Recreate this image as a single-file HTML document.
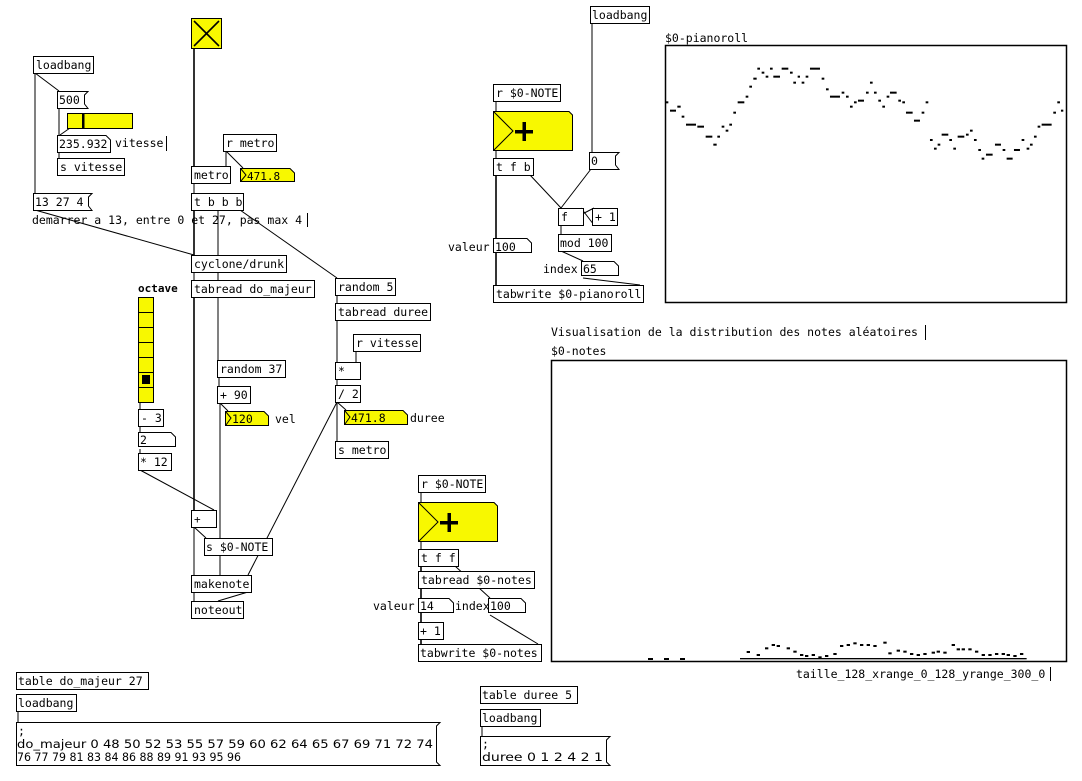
<!DOCTYPE html>
<html><head><meta charset="utf-8"><style>
html,body{margin:0;padding:0;background:#fff;}
svg{display:block;font-family:"DejaVu Sans Mono","Liberation Mono",monospace;font-size:11.5px;}
text{fill:#000;}
.b{fill:#fff;stroke:#000;stroke-width:1;}
.y{fill:#f8f800;stroke:#000;stroke-width:1;}
.l{stroke:#000;stroke-width:1;fill:none;}
.c{stroke:#000;stroke-width:1.6;fill:none;}
.io{fill:#000;}
.p{font-family:"DejaVu Sans","Liberation Sans",sans-serif;font-size:11.5px;}
</style></head><body>
<svg width="1082" height="781" viewBox="0 0 1082 781" xmlns="http://www.w3.org/2000/svg">
<!-- connections -->
<g class="l">
<line x1="35" y1="73" x2="59" y2="91"/>
<line x1="35" y1="73" x2="35" y2="193"/>
<line x1="59" y1="108" x2="59" y2="135"/>
<line x1="70" y1="128" x2="60" y2="135"/>
<line x1="59" y1="152" x2="59" y2="158"/>
<line x1="35" y1="210" x2="194" y2="255"/>
<line x1="194" y1="48" x2="194" y2="166" class="c"/>
<line x1="226" y1="151" x2="226" y2="166"/>
<line x1="226" y1="151" x2="243" y2="168"/>
<line x1="194" y1="183" x2="194" y2="193"/>
<line x1="194" y1="210" x2="194" y2="255" class="c"/>
<line x1="218" y1="210" x2="218" y2="360"/>
<line x1="240" y1="210" x2="337" y2="278"/>
<line x1="194" y1="272" x2="194" y2="280"/>
<line x1="194" y1="297" x2="194" y2="510" class="c"/>
<line x1="194" y1="527" x2="206" y2="538"/>
<line x1="194" y1="527" x2="194" y2="575"/>
<line x1="140" y1="402" x2="140" y2="409"/>
<line x1="140" y1="426" x2="140" y2="432"/>
<line x1="140" y1="449" x2="140" y2="453"/>
<line x1="140" y1="470" x2="214" y2="510"/>
<line x1="219" y1="377" x2="219" y2="386"/>
<line x1="220" y1="403" x2="220" y2="575"/>
<line x1="220" y1="403" x2="228" y2="411"/>
<line x1="337" y1="295" x2="337" y2="303"/>
<line x1="337" y1="320" x2="337" y2="362"/>
<line x1="356" y1="351" x2="356" y2="362"/>
<line x1="337" y1="379" x2="337" y2="385"/>
<line x1="337" y1="402" x2="337" y2="441"/>
<line x1="337" y1="402" x2="346" y2="410"/>
<line x1="337" y1="402" x2="248" y2="575"/>
<line x1="194" y1="592" x2="194" y2="601"/>
<line x1="248" y1="592" x2="218" y2="601"/>
<line x1="592" y1="23" x2="592" y2="152"/>
<line x1="591" y1="169" x2="561" y2="208"/>
<line x1="530" y1="175" x2="561" y2="208"/>
<line x1="496" y1="101" x2="496" y2="111"/>
<line x1="496" y1="151" x2="496" y2="158"/>
<line x1="496" y1="175" x2="496" y2="285" class="c"/>
<line x1="561" y1="225" x2="594" y2="208"/>
<line x1="594" y1="225" x2="581" y2="208"/>
<line x1="561" y1="225" x2="561" y2="234"/>
<line x1="561" y1="251" x2="583" y2="261"/>
<line x1="583" y1="278" x2="640" y2="285"/>
<line x1="421" y1="492" x2="421" y2="502"/>
<line x1="421" y1="542" x2="421" y2="549"/>
<line x1="421" y1="566" x2="421" y2="644" class="c"/>
<line x1="455" y1="566" x2="490" y2="598"/>
<line x1="490" y1="615" x2="538" y2="644"/>
<line x1="18" y1="711" x2="18" y2="722"/>
<line x1="482" y1="726" x2="482" y2="736"/>
</g>
<!-- toggle -->
<rect class="y" x="191.5" y="18.5" width="30" height="30"/>
<line class="c" x1="194" y1="21" x2="219" y2="46" stroke-width="2"/>
<line class="c" x1="219" y1="21" x2="194" y2="46" stroke-width="2"/>
<!-- objects -->
<g>
<rect class="b" x="33.5" y="56.5" width="60" height="17"/><text x="36" y="69">loadbang</text>
<polygon class="b" points="57.5,91.5 88,91.5 84.5,95 84.5,104 88,108.5 57.5,108.5"/><text x="59" y="104">500</text>
<rect class="y" x="67.5" y="113.5" width="65" height="15"/><rect x="82" y="114" width="2.5" height="14" class="io"/>
<polygon class="b" points="57.5,135.5 106,135.5 110.5,140 110.5,152.5 57.5,152.5"/><text x="59" y="148">235.932</text><text x="115" y="147">vitesse</text><line class="l" x1="166.5" y1="136" x2="166.5" y2="151"/>
<rect class="b" x="57.5" y="158.5" width="67" height="17"/><text x="60" y="171">s vitesse</text>
<polygon class="b" points="33.5,193.5 92,193.5 88.5,197 88.5,206 92,210.5 33.5,210.5"/><text x="35" y="206">13 27 4</text>
<text x="32" y="224">demarrer a 13, entre 0 et 27, pas max 4</text><line class="l" x1="307.5" y1="213" x2="307.5" y2="227"/>
<rect class="b" x="223.5" y="134.5" width="53" height="17"/><text x="226" y="147">r metro</text>
<rect class="b" x="191.5" y="166.5" width="39" height="17"/><text x="194" y="179">metro</text>
<polygon class="y" points="240.5,168.5 290,168.5 294.5,173 294.5,181.5 240.5,181.5"/><polyline class="l" points="241,169 246,175 241,181"/><text x="247" y="180" style="font-size:11px">471.8</text>
<rect class="b" x="191.5" y="193.5" width="52" height="17"/><text x="194" y="206">t b b b</text>
<rect class="b" x="191.5" y="255.5" width="95" height="17"/><text x="194" y="268">cyclone/drunk</text>
<rect class="b" x="191.5" y="280.5" width="123" height="17"/><text x="194" y="293">tabread do_majeur</text>
<text x="138" y="292" style="font-size:11px;font-weight:bold">octave</text>
<rect class="y" x="138.5" y="297.5" width="15" height="105"/>
<g class="l"><line x1="138" y1="312.5" x2="153" y2="312.5"/><line x1="138" y1="327.5" x2="153" y2="327.5"/><line x1="138" y1="342.5" x2="153" y2="342.5"/><line x1="138" y1="357.5" x2="153" y2="357.5"/><line x1="138" y1="372.5" x2="153" y2="372.5"/><line x1="138" y1="387.5" x2="153" y2="387.5"/></g>
<rect x="142" y="375" width="8" height="9" class="io"/>
<rect class="b" x="138.5" y="409.5" width="25" height="17"/><text x="141" y="422">- 3</text>
<polygon class="b" points="138.5,432.5 171,432.5 175.5,437 175.5,446.5 138.5,446.5"/><text x="140" y="444">2</text>
<rect class="b" x="138.5" y="453.5" width="33" height="17"/><text x="140" y="466">* 12</text>
<rect class="b" x="217.5" y="360.5" width="68" height="17"/><text x="220" y="373">random 37</text>
<rect class="b" x="217.5" y="386.5" width="33" height="17"/><text x="220" y="399">+ 90</text>
<polygon class="y" points="225.5,411.5 264,411.5 268.5,416 268.5,425.5 225.5,425.5"/><polyline class="l" points="226,412 231,418 226,425"/><text x="232" y="423">120</text><text x="275" y="423">vel</text>
<rect class="b" x="191.5" y="510.5" width="25" height="17"/><text x="194" y="523" style="font-size:11px">+</text>
<rect class="b" x="204.5" y="538.5" width="68" height="17"/><text x="206" y="551">s $0-NOTE</text>
<rect class="b" x="191.5" y="575.5" width="60" height="17"/><text x="194" y="588">makenote</text>
<rect class="b" x="191.5" y="601.5" width="52" height="17"/><text x="194" y="614">noteout</text>
<rect class="b" x="335.5" y="278.5" width="60" height="17"/><text x="338" y="291">random 5</text>
<rect class="b" x="335.5" y="303.5" width="95" height="17"/><text x="338" y="316">tabread duree</text>
<rect class="b" x="353.5" y="334.5" width="67" height="17"/><text x="356" y="347">r vitesse</text>
<rect class="b" x="335.5" y="362.5" width="25" height="17"/><text x="338" y="375">*</text>
<rect class="b" x="335.5" y="385.5" width="25" height="17"/><text x="338" y="398">/ 2</text>
<polygon class="y" points="344.5,410.5 403,410.5 407.5,415 407.5,424.5 344.5,424.5"/><polyline class="l" points="345,411 350,417 345,424"/><text x="351" y="422">471.8</text><text x="410" y="422">duree</text>
<rect class="b" x="335.5" y="441.5" width="53" height="17"/><text x="338" y="454">s metro</text>
<!-- right top -->
<rect class="b" x="590.5" y="6.5" width="59" height="17"/><text x="592" y="19">loadbang</text>
<rect class="b" x="493.5" y="84.5" width="67" height="17"/><text x="496" y="97">r $0-NOTE</text>
<polygon class="y" points="493.5,111.5 569,111.5 572.5,115 572.5,150.5 493.5,150.5"/><polyline class="l" points="494,112 513,131 494,150"/><rect x="515" y="130" width="18" height="3.5" class="io"/><rect x="522.5" y="122" width="3.5" height="19" class="io"/>
<rect class="b" x="493.5" y="158.5" width="40" height="17"/><text x="496" y="171">t f b</text>
<polygon class="b" points="589.5,152.5 619,152.5 615.5,156 615.5,165 619,169.5 589.5,169.5"/><text x="591" y="165">0</text>
<rect class="b" x="558.5" y="208.5" width="25" height="17"/><text x="561" y="221">f</text>
<rect class="b" x="592.5" y="208.5" width="25" height="17"/><text x="595" y="221">+ 1</text>
<rect class="b" x="558.5" y="234.5" width="53" height="17"/><text x="560" y="247">mod 100</text>
<polygon class="b" points="493.5,238.5 527,238.5 531.5,243 531.5,252.5 493.5,252.5"/><text x="495" y="251">100</text><text x="448" y="251">valeur</text>
<text x="543" y="273">index</text>
<polygon class="b" points="581.5,261.5 614,261.5 618.5,266 618.5,275.5 581.5,275.5"/><text x="583" y="273">65</text>
<rect class="b" x="493.5" y="285.5" width="150" height="17"/><text x="496" y="298">tabwrite $0-pianoroll</text>
<!-- bottom middle -->
<rect class="b" x="418.5" y="475.5" width="67" height="17"/><text x="421" y="488">r $0-NOTE</text>
<polygon class="y" points="418.5,502.5 494,502.5 497.5,506 497.5,541.5 418.5,541.5"/><polyline class="l" points="419,503 438,522 419,541"/><rect x="440" y="521" width="18" height="3.5" class="io"/><rect x="447.5" y="513" width="3.5" height="19" class="io"/>
<rect class="b" x="418.5" y="549.5" width="40" height="17"/><text x="421" y="562">t f f</text>
<rect class="b" x="418.5" y="571.5" width="116" height="17"/><text x="421" y="584">tabread $0-notes</text>
<text x="373" y="610">valeur</text>
<polygon class="b" points="418.5,598.5 449,598.5 453.5,603 453.5,612.5 418.5,612.5"/><text x="420" y="610">14</text>
<text x="455" y="610">index</text>
<polygon class="b" points="488.5,598.5 521,598.5 525.5,603 525.5,612.5 488.5,612.5"/><text x="490" y="610">100</text>
<rect class="b" x="418.5" y="622.5" width="25" height="17"/><text x="420" y="635">+ 1</text>
<rect class="b" x="418.5" y="644.5" width="123" height="17"/><text x="420" y="657">tabwrite $0-notes</text>
<!-- tables -->
<rect class="b" x="16.5" y="672.5" width="132" height="17"/><text x="18" y="685">table do_majeur 27</text>
<rect class="b" x="16.5" y="694.5" width="60" height="17"/><text x="18" y="707">loadbang</text>
<polygon class="b" points="16.5,722.5 440,722.5 436.5,726 436.5,762 440,765.5 16.5,765.5"/>
<text x="18" y="735">;</text>
<text class="p" x="17" y="748" textLength="416" lengthAdjust="spacingAndGlyphs">do_majeur 0 48 50 52 53 55 57 59 60 62 64 65 67 69 71 72 74</text>
<text class="p" x="17" y="761" textLength="224" lengthAdjust="spacingAndGlyphs">76 77 79 81 83 84 86 88 89 91 93 95 96</text>
<rect class="b" x="480.5" y="686.5" width="97" height="17"/><text x="482" y="699">table duree 5</text>
<rect class="b" x="480.5" y="709.5" width="60" height="17"/><text x="482" y="722">loadbang</text>
<polygon class="b" points="480.5,736.5 610,736.5 606.5,740 606.5,762 610,765.5 480.5,765.5"/>
<text x="482" y="748">;</text><text class="p" x="482" y="761" textLength="121" lengthAdjust="spacingAndGlyphs">duree 0 1 2 4 2 1</text>
</g>
<!-- arrays -->
<text x="665" y="42">$0-pianoroll</text>
<rect x="665.5" y="45.5" width="401" height="257" fill="#fff" stroke="#000" stroke-width="1.5"/>
<g transform="translate(660,40) scale(0.3333)" class="io">
<rect x="15" y="184" width="10" height="6"/><rect x="30" y="209" width="18" height="6"/><rect x="52" y="197" width="10" height="6"/><rect x="65" y="227" width="8" height="6"/><rect x="78" y="251" width="30" height="6"/><rect x="112" y="257" width="20" height="6"/><rect x="137" y="287" width="20" height="6"/><rect x="160" y="311" width="10" height="6"/><rect x="172" y="287" width="8" height="6"/><rect x="185" y="257" width="8" height="6"/><rect x="197" y="269" width="8" height="6"/><rect x="208" y="251" width="8" height="6"/><rect x="220" y="215" width="8" height="6"/><rect x="233" y="184" width="20" height="6"/><rect x="257" y="167" width="8" height="6"/><rect x="268" y="137" width="8" height="6"/><rect x="280" y="113" width="10" height="6"/><rect x="292" y="83" width="8" height="6"/><rect x="305" y="95" width="8" height="6"/><rect x="317" y="107" width="8" height="6"/><rect x="330" y="83" width="8" height="6"/><rect x="340" y="107" width="20" height="6"/><rect x="365" y="83" width="20" height="6"/><rect x="390" y="95" width="8" height="6"/><rect x="400" y="125" width="8" height="6"/><rect x="413" y="107" width="7" height="6"/><rect x="425" y="125" width="8" height="6"/><rect x="437" y="107" width="8" height="6"/><rect x="450" y="83" width="30" height="6"/><rect x="485" y="113" width="8" height="6"/><rect x="498" y="145" width="8" height="6"/><rect x="510" y="167" width="30" height="6"/><rect x="545" y="155" width="8" height="6"/><rect x="558" y="167" width="8" height="6"/><rect x="570" y="197" width="8" height="6"/><rect x="582" y="184" width="8" height="6"/><rect x="594" y="179" width="18" height="6"/><rect x="618" y="155" width="8" height="6"/><rect x="630" y="125" width="8" height="6"/><rect x="642" y="155" width="8" height="6"/><rect x="655" y="179" width="8" height="6"/><rect x="667" y="197" width="8" height="6"/><rect x="680" y="167" width="8" height="6"/><rect x="690" y="155" width="20" height="6"/><rect x="715" y="179" width="8" height="6"/><rect x="727" y="184" width="8" height="6"/><rect x="738" y="215" width="20" height="6"/><rect x="762" y="239" width="18" height="6"/><rect x="785" y="215" width="8" height="6"/><rect x="797" y="184" width="8" height="6"/><rect x="810" y="297" width="8" height="6"/><rect x="822" y="323" width="8" height="6"/><rect x="833" y="311" width="8" height="6"/><rect x="845" y="281" width="20" height="6"/><rect x="868" y="297" width="8" height="6"/><rect x="880" y="323" width="8" height="6"/><rect x="893" y="287" width="20" height="6"/><rect x="918" y="281" width="8" height="6"/><rect x="930" y="269" width="8" height="6"/><rect x="942" y="297" width="8" height="6"/><rect x="955" y="327" width="8" height="6"/><rect x="965" y="353" width="8" height="6"/><rect x="978" y="341" width="20" height="6"/><rect x="1005" y="311" width="18" height="6"/><rect x="1028" y="327" width="8" height="6"/><rect x="1040" y="353" width="18" height="6"/><rect x="1062" y="327" width="18" height="6"/><rect x="1085" y="297" width="8" height="6"/><rect x="1100" y="323" width="8" height="6"/><rect x="1110" y="311" width="8" height="6"/><rect x="1122" y="287" width="8" height="6"/><rect x="1133" y="257" width="8" height="6"/><rect x="1145" y="251" width="30" height="6"/><rect x="1180" y="215" width="8" height="6"/><rect x="1192" y="184" width="8" height="6"/><rect x="1203" y="209" width="7" height="6"/>
</g>
<text x="551" y="336">Visualisation de la distribution des notes aléatoires</text><line class="l" x1="925.5" y1="325" x2="925.5" y2="340"/>
<text x="551" y="355">$0-notes</text>
<rect x="551.5" y="360.5" width="515" height="301" fill="#fff" stroke="#000" stroke-width="1.5"/>
<g transform="translate(740,630) scale(0.3333)" class="io">
<rect x="20" y="63" width="10" height="6"/><rect x="50" y="72" width="10" height="6"/><rect x="75" y="52" width="10" height="6"/><rect x="95" y="42" width="10" height="6"/><rect x="110" y="45" width="10" height="6"/><rect x="140" y="52" width="10" height="6"/><rect x="160" y="62" width="10" height="6"/><rect x="180" y="72" width="10" height="6"/><rect x="195" y="75" width="10" height="6"/><rect x="215" y="72" width="10" height="6"/><rect x="235" y="79" width="10" height="6"/><rect x="255" y="75" width="10" height="6"/><rect x="280" y="69" width="10" height="6"/><rect x="300" y="45" width="10" height="6"/><rect x="320" y="42" width="10" height="6"/><rect x="340" y="37" width="10" height="6"/><rect x="360" y="42" width="10" height="6"/><rect x="380" y="42" width="10" height="6"/><rect x="400" y="45" width="10" height="6"/><rect x="430" y="35" width="10" height="6"/><rect x="445" y="67" width="10" height="6"/><rect x="470" y="59" width="10" height="6"/><rect x="490" y="62" width="10" height="6"/><rect x="510" y="69" width="10" height="6"/><rect x="530" y="72" width="10" height="6"/><rect x="550" y="69" width="10" height="6"/><rect x="575" y="65" width="10" height="6"/><rect x="590" y="62" width="10" height="6"/><rect x="610" y="65" width="10" height="6"/><rect x="635" y="42" width="10" height="6"/><rect x="650" y="55" width="10" height="6"/><rect x="665" y="55" width="10" height="6"/><rect x="685" y="55" width="10" height="6"/><rect x="705" y="62" width="10" height="6"/><rect x="725" y="72" width="10" height="6"/><rect x="745" y="72" width="10" height="6"/><rect x="765" y="69" width="10" height="6"/><rect x="785" y="69" width="10" height="6"/><rect x="800" y="72" width="10" height="6"/><rect x="820" y="75" width="10" height="6"/><rect x="840" y="69" width="10" height="6"/>
<rect x="0" y="84" width="860" height="4"/>
</g>
<rect x="648" y="658" width="5" height="2" class="io"/><rect x="664" y="658" width="5" height="2" class="io"/><rect x="680" y="658" width="5" height="2" class="io"/>
<text x="796" y="678">taille_128_xrange_0_128_yrange_300_0</text><line class="l" x1="1050.5" y1="667" x2="1050.5" y2="681"/>
</svg>
</body></html>
